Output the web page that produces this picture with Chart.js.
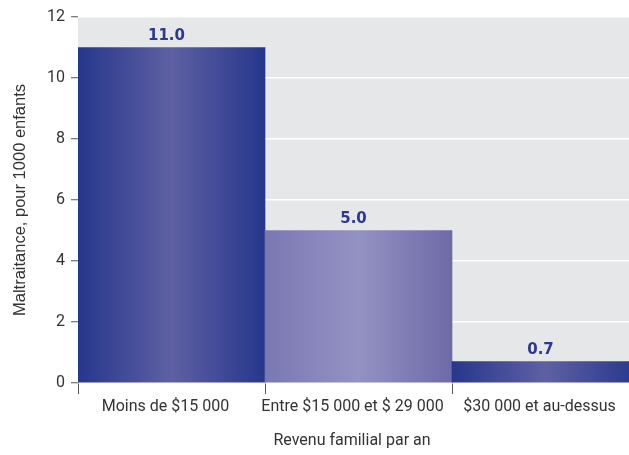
<!DOCTYPE html>
<html>
<head>
<meta charset="utf-8">
<script src="https://cdn.jsdelivr.net/npm/chart.js@4.4.1/dist/chart.umd.min.js"></script>
<style>
  html, body { margin: 0; padding: 0; background: #ffffff; overflow: hidden; }
  #wrap { width: 629px; height: 455px; overflow: hidden; }
  canvas { display: block; }
</style>
</head>
<body>
<div id="wrap"><canvas id="c" width="639" height="455"></canvas></div>
<script>
// Income brackets and maltreatment rate per 1000 children
const categories = ['Moins de $15 000', 'Entre $15 000 et $ 29 000', '$30 000 et au-dessus'];
const rates = [11.0, 5.0, 0.7];
const yTicks = [0, 2, 4, 6, 8, 10, 12];
const xTitle = 'Revenu familial par an';
const yTitle = 'Maltraitance, pour 1000 enfants';

// Horizontal gradient stops for each bar: [edge-left, centre, edge-right]
const barShades = [
  ['#27378b', '#5e60a3', '#26378b'],
  ['#7a78b2', '#9492c3', '#6d6aa8'],
  ['#27378b', '#5e60a3', '#26378b']
];

const fontFamily = 'Roboto, "Noto Sans", sans-serif';

const plotBackground = {
  id: 'plotBackground',
  beforeDraw(chart) {
    const { ctx, chartArea: a } = chart;
    ctx.save();
    ctx.fillStyle = '#e6e7e9';
    ctx.fillRect(a.left, a.top, a.right - a.left, a.bottom - a.top);
    ctx.restore();
  }
};

// Value above each bar, plus the two axis titles
const annotations = {
  id: 'annotations',
  afterDatasetsDraw(chart) {
    const { ctx, chartArea: a } = chart;
    const meta = chart.getDatasetMeta(0);
    ctx.save();
    ctx.font = 'bold 15px "DejaVu Sans", sans-serif';
    ctx.fillStyle = '#2b3990';
    ctx.textAlign = 'center';
    ctx.textBaseline = 'bottom';
    meta.data.forEach((bar, i) => {
      ctx.fillText(rates[i].toFixed(1), bar.x - 5, bar.y - 4);
    });

    ctx.fillStyle = '#333333';
    ctx.textBaseline = 'middle';
    ctx.font = '16px ' + fontFamily;
    ctx.fillText(xTitle, 352, 441);

    ctx.translate(25, (a.top + a.bottom) / 2);
    ctx.rotate(-Math.PI / 2);
    ctx.textBaseline = 'alphabetic';
    ctx.font = '16.5px "Liberation Sans", Arial, sans-serif';
    ctx.fillText(yTitle, 0, 0);
    ctx.restore();
  }
};

function barGradient(context) {
  const chart = context.chart;
  const area = chart.chartArea;
  const shades = barShades[context.dataIndex % barShades.length];
  if (!area) return shades[1];
  const xs = chart.scales.x;
  const cx = xs.getPixelForValue(context.dataIndex);
  const half = (area.right - area.left) / categories.length / 2;
  const g = chart.ctx.createLinearGradient(cx - half, 0, cx + half, 0);
  g.addColorStop(0, shades[0]);
  g.addColorStop(0.5, shades[1]);
  g.addColorStop(1, shades[2]);
  return g;
}

new Chart(document.getElementById('c'), {
  type: 'bar',
  data: {
    labels: categories,
    datasets: [{
      data: rates,
      backgroundColor: barGradient,
      borderWidth: 0,
      barPercentage: 1.0,
      categoryPercentage: 1.0
    }]
  },
  options: {
    responsive: false,
    animation: false,
    layout: { padding: { top: 17, right: 0, left: 0, bottom: 0 } },
    plugins: {
      legend: { display: false },
      tooltip: { enabled: false }
    },
    scales: {
      x: {
        grid: {
          offset: true,
          drawOnChartArea: false,
          drawTicks: true,
          tickLength: 11,
          tickColor: '#555555',
          tickWidth: 1
        },
        border: { display: false },
        ticks: {
          color: '#333333',
          font: { family: fontFamily, size: 16 },
          padding: 3,
          maxRotation: 0,
          minRotation: 0,
          autoSkip: false,
          labelOffset: -6
        },
        afterFit(scale) { scale.height = 72; }
      },
      y: {
        min: 0,
        max: 12,
        afterBuildTicks(scale) { scale.ticks = yTicks.map(v => ({ value: v })); },
        grid: {
          color: '#ffffff',
          lineWidth: 1.5,
          drawTicks: true,
          tickLength: 7,
          tickColor: '#555555',
          tickWidth: 1
        },
        border: { display: false },
        ticks: {
          color: '#333333',
          font: { family: fontFamily, size: 16 },
          padding: 6
        },
        afterFit(scale) { scale.width = 78; }
      }
    }
  },
  plugins: [plotBackground, annotations]
});
</script>
</body>
</html>
